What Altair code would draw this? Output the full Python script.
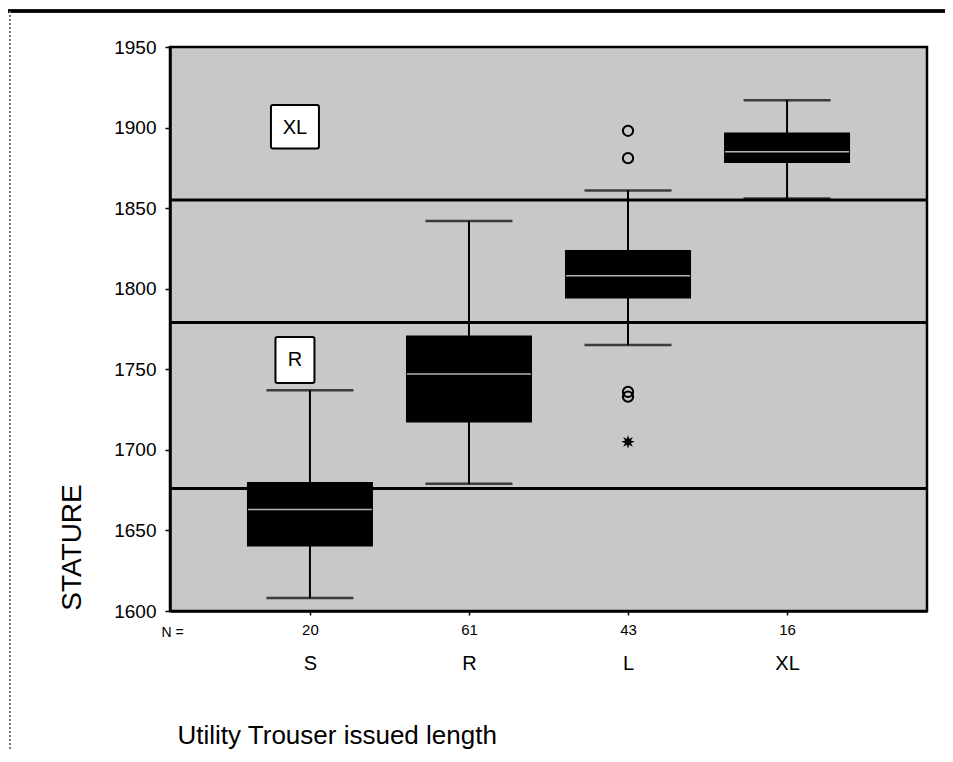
import math
import altair as alt
import pandas as pd

# ---- data ----
sizes = ["S", "R", "L", "XL"]
counts = [20, 61, 43, 16]
whisker_low = [1608, 1679, 1765, 1856]
q1 = [1640, 1717, 1794, 1878]
median = [1663, 1747, 1808, 1885]
q3 = [1680, 1771, 1824, 1897]
whisker_high = [1737, 1842, 1861, 1917]

outlier_size = ["L", "L", "L", "L"]
outlier_value = [1898, 1881, 1736, 1733]
extreme_size = ["L"]
extreme_value = [1705]

band_lines = [1855, 1779, 1676]

label_text = ["XL", "R"]
label_at = ["S", "S"]
label_value = [1900, 1756]
label_top = [1914, 1770]
label_bottom = [1887, 1741.5]

box_df = pd.DataFrame({"size": sizes, "n": counts, "lower": whisker_low, "q1": q1,
                       "median": median, "q3": q3, "upper": whisker_high})
out_df = pd.DataFrame({"size": outlier_size, "stature": outlier_value})
ext_df = pd.DataFrame({"size": extreme_size, "stature": extreme_value})
band_df = pd.DataFrame({"stature": band_lines})
lab_df = pd.DataFrame({"size": label_at, "text": label_text, "v": label_value,
                       "top": label_top, "bottom": label_bottom})

FONT = "Liberation Sans"
W, H = 757, 564

xscale = alt.Scale(type="point", domain=sizes, padding=0.88)
yscale = alt.Scale(domain=[1600, 1950], nice=False, zero=False)

y_axis = alt.Axis(title="STATURE", values=list(range(1600, 1951, 50)), format="d",
                  labelFontSize=19, labelColor="black", labelPadding=9, labelFont=FONT,
                  tickSize=5, tickColor="black", tickWidth=1.5,
                  domainColor="black", domainWidth=2.5, grid=False,
                  titleFontSize=28, titleFontWeight="normal", titleFont=FONT, titleColor="black",
                  titleAngle=270, titleX=-98, titleY=500, titleAlign="center", titleBaseline="middle")


def Y(field):
    return alt.Y(field, type="quantitative", scale=yscale, axis=y_axis)


n_expr = " : ".join(f"datum.value == '{s}' ? '{c}'" for s, c in zip(sizes, counts)) + " : ''"

n_axis = alt.Axis(orient="bottom", title="N =", labelExpr=n_expr, labelAngle=0,
                  labelFontSize=15, labelFont=FONT, labelColor="black", labelPadding=7,
                  tickSize=4, tickColor="black", tickWidth=1.5,
                  domainColor="black", domainWidth=2.5, grid=False,
                  titleFontSize=14, titleFontWeight="normal", titleFont=FONT, titleColor="black",
                  titleX=2, titleY=21, titleAlign="center", titleBaseline="middle")

cat_axis = alt.Axis(orient="bottom", title="Utility Trouser issued length", labelAngle=0,
                    labelFontSize=20, labelFont=FONT, labelColor="black", labelPadding=42,
                    ticks=False, domain=False, grid=False,
                    titleFontSize=26, titleFontWeight="normal", titleFont=FONT, titleColor="black",
                    titleX=7, titleY=124, titleAlign="left", titleBaseline="middle")

# star path for the extreme value marker
pts = []
for k in range(16):
    r = 1.0 if k % 2 == 0 else 0.45
    a = math.pi * k / 8
    pts.append(f"{r * math.cos(a):.3f},{r * math.sin(a):.3f}")
star_path = "M" + " L".join(pts) + " Z"

bands = alt.Chart(band_df).mark_rule(color="black", strokeWidth=3).encode(y=Y("stature"))

whisk = alt.Chart(box_df).mark_rule(color="black", strokeWidth=2).encode(
    x=alt.X("size:N", scale=xscale, sort=sizes, axis=cat_axis),
    y=Y("lower"), y2="upper")

caps_low = alt.Chart(box_df).mark_tick(color="black", size=87, thickness=2.5).encode(
    x=alt.X("size:N", scale=xscale, sort=sizes, axis=None), y=Y("lower"))
caps_high = alt.Chart(box_df).mark_tick(color="black", size=87, thickness=2.5).encode(
    x=alt.X("size:N", scale=xscale, sort=sizes, axis=None), y=Y("upper"))

boxes = alt.Chart(box_df).mark_bar(color="black", size=126).encode(
    x=alt.X("size:N", scale=xscale, sort=sizes, axis=n_axis),
    y=Y("q1"), y2="q3")

meds = alt.Chart(box_df).mark_tick(color="white", size=124, thickness=1.5).encode(
    x=alt.X("size:N", scale=xscale, sort=sizes, axis=None), y=Y("median"))

outs = alt.Chart(out_df).mark_point(shape="circle", filled=False, color="black",
                                    size=105, strokeWidth=2, opacity=1).encode(
    x=alt.X("size:N", scale=xscale, sort=sizes, axis=None), y=Y("stature"))

ext = alt.Chart(ext_df).mark_point(shape=star_path, filled=True, color="black",
                                   size=190, opacity=1).encode(
    x=alt.X("size:N", scale=xscale, sort=sizes, axis=None), y=Y("stature"))

lab_xl = alt.Chart(lab_df.iloc[[0]]).mark_bar(color="white", stroke="black", strokeWidth=2,
                                              size=48, xOffset=-15, cornerRadius=2).encode(
    x=alt.X("size:N", scale=xscale, sort=sizes, axis=None), y=Y("bottom"), y2="top")
lab_r = alt.Chart(lab_df.iloc[[1]]).mark_bar(color="white", stroke="black", strokeWidth=2,
                                             size=39, xOffset=-15, cornerRadius=2).encode(
    x=alt.X("size:N", scale=xscale, sort=sizes, axis=None), y=Y("bottom"), y2="top")
lab_txt = alt.Chart(lab_df).mark_text(font=FONT, fontSize=20, color="black", dx=-15,
                                      align="center", baseline="middle").encode(
    x=alt.X("size:N", scale=xscale, sort=sizes, axis=None), y=Y("v"), text="text:N")

top_line = alt.Chart(band_df).mark_rule(color="black", strokeWidth=3).encode(
    x=alt.value(-162), x2=alt.value(W + 18), y=alt.value(-36))
left_dots = alt.Chart(band_df).mark_rule(color="#666666", strokeWidth=1, strokeDash=[2, 2]).encode(
    x=alt.value(-160), y=alt.value(-36), y2=alt.value(H + 140))

chart = alt.layer(
    bands, whisk, caps_low, caps_high, boxes, meds, outs, ext,
    lab_xl, lab_r, lab_txt, top_line, left_dots
).resolve_axis(x="independent").properties(
    width=W, height=H,
    autosize=alt.AutoSizeParams(type="none"),
    padding={"left": 162, "top": 39, "right": 18, "bottom": 140},
    background="white",
).configure_view(
    fill="#c8c8c8", stroke="black", strokeWidth=2.5
)

chart.save("out.html", embed_options={"renderer": "svg", "actions": False})
